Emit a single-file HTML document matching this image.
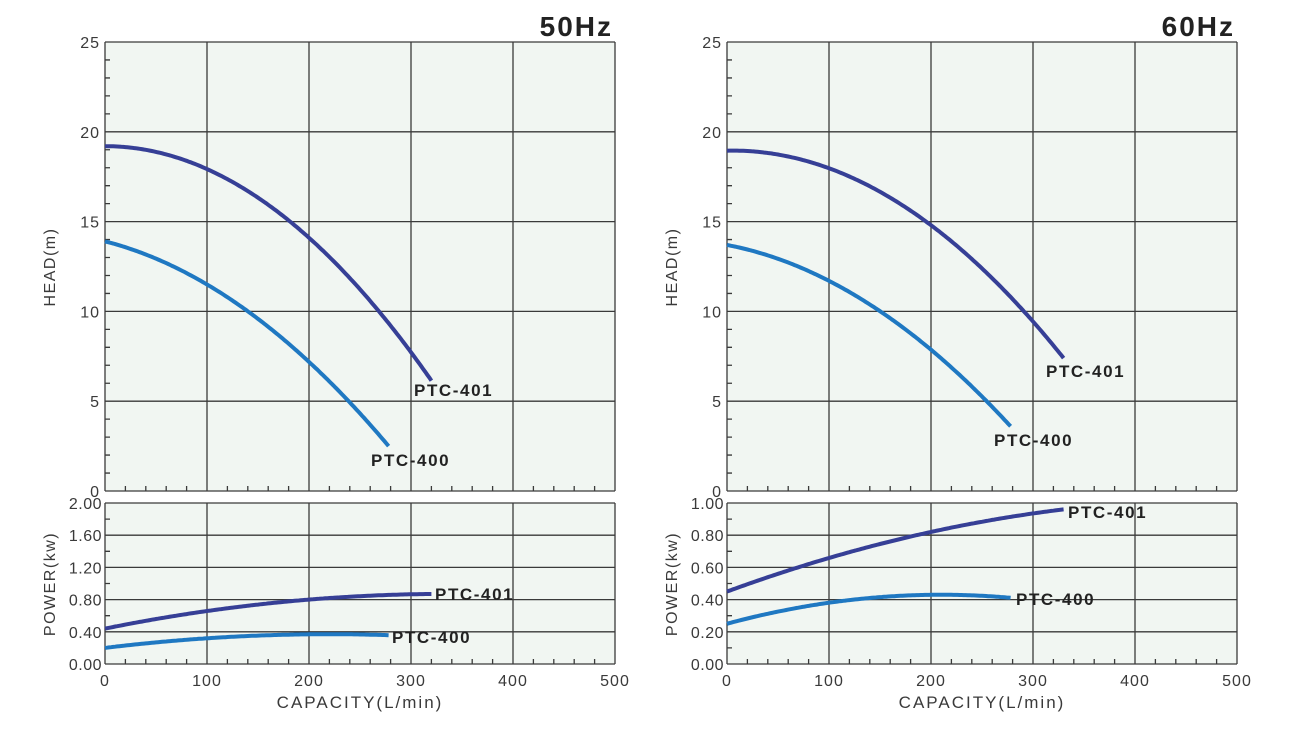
<!DOCTYPE html>
<html><head><meta charset="utf-8"><style>
body{margin:0;background:#fff;width:1305px;height:742px;overflow:hidden}
svg text{font-family:"Liberation Sans",sans-serif;fill:#3a3a3a}
</style></head><body>
<svg id="s" width="1305" height="742" xmlns="http://www.w3.org/2000/svg"></svg>
<script>
const S=document.getElementById('s');let h='';
function chart(x0,title,pmax,curves,labels){
 const W=510,hT=42,hB=491,pT=503,pB=664;
 const X=q=>x0+q*1.02, HY=v=>hB-v*17.96, PY=v=>pB-v*(pB-pT)/pmax;
 h+=`<rect x="${x0}" y="${hT}" width="${W}" height="${hB-hT}" fill="#f1f6f2"/>`;
 h+=`<rect x="${x0}" y="${pT}" width="${W}" height="${pB-pT}" fill="#f1f6f2"/>`;
 let g='';
 for(let i=0;i<=5;i++){const x=X(i*100);g+=`M${x} ${hT}V${hB}M${x} ${pT}V${pB}`;}
 for(let i=0;i<=5;i++){const y=HY(i*5);g+=`M${x0} ${y}H${x0+W}`;}
 for(let i=0;i<=5;i++){const y=pT+(pB-pT)*i/5;g+=`M${x0} ${y}H${x0+W}`;}
 for(let q=20;q<500;q+=20){if(q%100==0)continue;const x=X(q);g+=`M${x} ${hB}v-5M${x} ${pB}v-5`;}
 for(let v=1;v<25;v++){if(v%5==0)continue;const y=HY(v);g+=`M${x0} ${y}h5`;}
 for(let i=0;i<5;i++){const y=pT+(pB-pT)*(i+0.5)/5;g+=`M${x0} ${y}h5`;}
 h+=`<path d="${g}" stroke="#3a3a3a" stroke-width="1.3" fill="none"/>`;
 for(let i=0;i<=5;i++){h+=`<text x="${x0-5}" y="${HY(i*5)+6}" font-size="16" letter-spacing="1" text-anchor="end">${i*5}</text>`;
  const v=pmax*i/5;h+=`<text x="${x0-3}" y="${PY(v)+6}" font-size="16" letter-spacing="0.5" text-anchor="end">${v.toFixed(2)}</text>`;
  h+=`<text x="${X(i*100)}" y="686" font-size="16" letter-spacing="1" text-anchor="middle">${i*100}</text>`;}
 h+=`<text transform="translate(${x0-50},267) rotate(-90)" font-size="16" letter-spacing="1.5" text-anchor="middle">HEAD(m)</text>`;
 h+=`<text transform="translate(${x0-50},584) rotate(-90)" font-size="16" letter-spacing="1.5" text-anchor="middle">POWER(kw)</text>`;
 h+=`<text x="${x0+255}" y="708" font-size="17" letter-spacing="2" text-anchor="middle">CAPACITY(L/min)</text>`;
 h+=`<text x="${x0+508}" y="36" font-size="28" font-weight="bold" letter-spacing="2" text-anchor="end" style="fill:#222">${title}</text>`;
 curves.forEach(c=>{let d='';for(let q=0;q<=c.e+0.01;q+=2){const v=c.f(q);d+=(q?'L':'M')+X(q).toFixed(1)+' '+(c.p?PY(v):HY(v)).toFixed(1);}
  h+=`<path d="${d}" stroke="${c.c}" stroke-width="4" fill="none"/>`;});
 labels.forEach(l=>h+=`<text x="${l[0]}" y="${l[1]}" font-size="17" font-weight="bold" letter-spacing="1.6" style="fill:#222">${l[2]}</text>`);
}
const D='#363f96',L='#1f78c2';
chart(105,'50Hz',2.0,[
 {c:D,e:320,f:q=>19.2-1.275e-4*q*q},
 {c:L,e:278,f:q=>13.9-0.01445*q-9.55e-5*q*q},
 {c:D,e:320,p:1,f:q=>0.44+0.00256*q-3.8e-6*q*q},
 {c:L,e:278,p:1,f:q=>0.2+0.001545*q-3.51e-6*q*q}],
 [[414,396,'PTC-401'],[371,466,'PTC-400'],[435,600,'PTC-401'],[392,643,'PTC-400']]);
chart(727,'60Hz',1.0,[
 {c:D,e:330,f:q=>18.95+0.00117*q-1.096e-4*q*q},
 {c:L,e:278,f:q=>13.7-0.01083*q-9.17e-5*q*q},
 {c:D,e:330,p:1,f:q=>0.45+0.002319*q-2.34e-6*q*q},
 {c:L,e:278,p:1,f:q=>0.25+0.001714*q-4.08e-6*q*q}],
 [[1046,377,'PTC-401'],[994,446,'PTC-400'],[1068,518,'PTC-401'],[1016,605,'PTC-400']]);
S.innerHTML=h;
</script>
</body></html>
